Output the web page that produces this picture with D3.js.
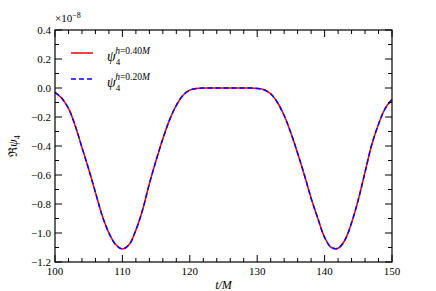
<!DOCTYPE html>
<meta charset="utf-8">
<head>
  <title>psi4 waveform</title>
</head>
<script src="https://d3js.org/d3.v7.min.js"></script>
<body style="margin:0;background:#fff">
  <div id="chart"></div>
</body>
<script>
  // t/M sample times and Re(psi4) (units of 1e-8)
  var times = d3.range(100, 151, 1);
  var psiCoarse = [-0.03, -0.07, -0.14, -0.26, -0.41, -0.56, -0.72, -0.88, -1.00, -1.08,
    -1.11, -1.08, -0.98, -0.84, -0.66, -0.50, -0.35, -0.22, -0.12, -0.05,
    -0.015, -0.003, 0, 0, 0, 0, 0, 0, 0, 0,
    -0.003, -0.012, -0.04, -0.10, -0.19, -0.31, -0.45, -0.60, -0.76, -0.90,
    -1.03, -1.10, -1.105, -1.05, -0.93, -0.77, -0.58, -0.39, -0.25, -0.14,
    -0.08];
  var psiFine = psiCoarse.slice();
  var xTicks = [100, 110, 120, 130, 140, 150];
  var yTicks = [-1.2, -1.0, -0.8, -0.6, -0.4, -0.2, 0.0, 0.2, 0.4];
  var legendLabels = ["0.40", "0.20"];

  var W = 436, H = 291;
  var margin = { top: 30, right: 44, bottom: 29, left: 55 };
  var width = W - margin.left - margin.right,
    height = H - margin.top - margin.bottom;
  var font = "'Liberation Serif', serif";

  var svg = d3.select("#chart").append("svg")
    .attr("width", W).attr("height", H)
    .style("font-family", font);
  var g = svg.append("g")
    .attr("transform", "translate(" + margin.left + "," + margin.top + ")");

  var x = d3.scaleLinear().domain([100, 150]).range([0, width]);
  var y = d3.scaleLinear().domain([-1.2, 0.4]).range([height, 0]);

  var line = d3.line()
    .curve(d3.curveCatmullRom)
    .x(function (d, i) { return x(times[i]) })
    .y(function (d) { return y(d) });

  g.append("path").datum(psiCoarse)
    .attr("d", line)
    .attr("fill", "none").attr("stroke", "#ff0000").attr("stroke-width", 1.5);
  g.append("path").datum(psiFine)
    .attr("d", line)
    .attr("fill", "none").attr("stroke", "#0000ff").attr("stroke-width", 1.5)
    .attr("stroke-dasharray", "5,3");

  // inward ticks on all four sides
  var xMinor = d3.range(100, 151, 2).filter(function (v) { return v % 10 != 0 });
  var yMinor = d3.range(-12, 5, 1).map(function (v) { return v / 10 }).filter(function (v) { return Math.round(v * 10) % 2 != 0 });
  var ticks = g.append("g").attr("stroke", "#000").attr("stroke-width", 1);
  function addX(vals, len) {
    vals.forEach(function (v) {
      ticks.append("line").attr("x1", x(v)).attr("x2", x(v)).attr("y1", height).attr("y2", height - len);
      ticks.append("line").attr("x1", x(v)).attr("x2", x(v)).attr("y1", 0).attr("y2", len);
    });
  }
  function addY(vals, len) {
    vals.forEach(function (v) {
      ticks.append("line").attr("y1", y(v)).attr("y2", y(v)).attr("x1", 0).attr("x2", len);
      ticks.append("line").attr("y1", y(v)).attr("y2", y(v)).attr("x1", width).attr("x2", width - len);
    });
  }
  addX(xTicks, 7); addX(xMinor, 4);
  addY(yTicks, 7); addY(yMinor, 4);

  g.append("rect").attr("width", width).attr("height", height)
    .attr("fill", "none").attr("stroke", "#000").attr("stroke-width", 1.2);

  g.selectAll(".xl").data(xTicks).enter().append("text")
    .attr("x", function (d) { return x(d) }).attr("y", height + 13)
    .attr("text-anchor", "middle").attr("font-size", 11)
    .text(function (d) { return d });
  g.selectAll(".yl").data(yTicks).enter().append("text")
    .attr("x", -4).attr("y", function (d) { return y(d) + 4 })
    .attr("text-anchor", "end").attr("font-size", 11)
    .text(function (d) { return d3.format(".1f")(d).replace("-", "\u2212") });

  // offset text
  var off = g.append("text").attr("x", 0).attr("y", -8).attr("font-size", 11);
  off.append("tspan").text("\u00d710");
  off.append("tspan").attr("dy", -4).attr("font-size", 8).text("\u22128");

  g.append("text").attr("x", width / 2).attr("y", height + 27)
    .attr("text-anchor", "middle").attr("font-size", 12).attr("font-style", "italic")
    .text("t/M");

  var yl = g.append("text").attr("transform", "translate(-38," + (height / 2) + ") rotate(-90)")
    .attr("text-anchor", "middle").attr("font-size", 12);
  yl.append("tspan").text("\u211c");
  yl.append("tspan").attr("font-style", "italic").text("\u03c8");
  yl.append("tspan").attr("dy", 3).attr("font-size", 8).text("4");

  // legend
  var leg = g.append("g").attr("transform", "translate(16,23)");
  legendLabels.forEach(function (lab, i) {
    var row = leg.append("g").attr("transform", "translate(0," + (i * 26) + ")");
    row.append("line").attr("x1", 0).attr("x2", 22)
      .attr("stroke", i == 0 ? "#ff0000" : "#0000ff").attr("stroke-width", 1.5)
      .attr("stroke-dasharray", i == 0 ? null : "5,3");
    var t = row.append("text").attr("x", 36).attr("y", 8).attr("font-size", 14);
    t.append("tspan").attr("font-style", "italic").text("\u03c8");
    t.append("tspan").attr("dy", 4).attr("font-size", 9).text("4");
    t.append("tspan").attr("dx", -5).attr("dy", -11).attr("font-size", 9.5).attr("font-style", "italic").text("h");
    t.append("tspan").attr("font-size", 9.5).text("=" + lab);
    t.append("tspan").attr("font-size", 9.5).attr("font-style", "italic").text("M");
  });
</script>
